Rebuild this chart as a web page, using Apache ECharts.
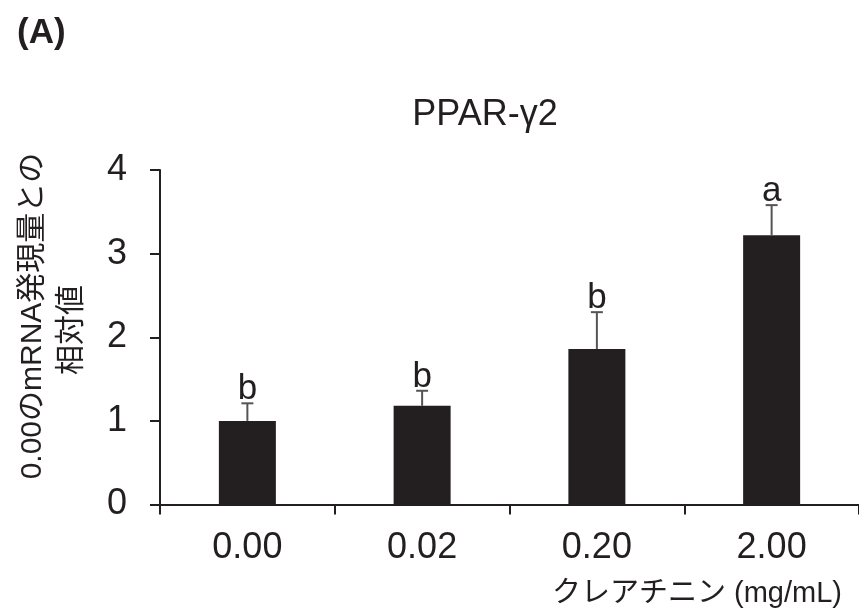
<!DOCTYPE html>
<html>
<head>
<meta charset="utf-8">
<script src="https://cdn.jsdelivr.net/npm/echarts@6/dist/echarts.min.js"></script>
<style>
html,body{margin:0;padding:0;background:#fff;}
#chart{width:859px;height:616px;}
</style>
</head>
<body>
<div id="chart"></div>
<script>
var categories = ['0.00', '0.02', '0.20', '2.00'];
var means = [1.00, 1.18, 1.86, 3.22];
var errors = [0.21, 0.18, 0.44, 0.36];
var letters = ['b', 'b', 'b', 'a'];
var yTicks = [0, 1, 2, 3, 4];
var titleText = 'PPAR-γ2';
var panelLabel = '(A)';
var yNameLine1 = '0.00のmRNA発現量との';
var yNameLine2 = '相対値';
var xName = 'クレアチニン (mg/mL)';

var FONT = '"Liberation Sans", Arial, "Noto Sans CJK JP", sans-serif';
var INK = '#231f20';

var chart = echarts.init(document.getElementById('chart'), null, {renderer: 'canvas'});

var errData = categories.map(function (c, i) { return [i, means[i], errors[i], letters[i]]; });

chart.setOption({
  animation: false,
  backgroundColor: '#ffffff',
  title: {
    text: titleText,
    left: 480, top: 92, textAlign: 'center',
    textStyle: {fontFamily: FONT, fontSize: 36, fontWeight: 'normal', color: INK}
  },
  graphic: [
    {type: 'text', left: 17, top: 16,
     style: {text: panelLabel, font: 'bold 35px ' + FONT, fill: INK}},
    {type: 'text', right: 17, top: 579,
     style: {text: xName, font: '29px ' + FONT, fill: INK}},
    {type: 'text', x: 33, y: 316, rotation: Math.PI / 2,
     style: {text: yNameLine1, font: '30px ' + FONT, fill: INK, align: 'center', verticalAlign: 'middle'}},
    {type: 'text', x: 72, y: 330, rotation: Math.PI / 2,
     style: {text: yNameLine2, font: '30px ' + FONT, fill: INK, align: 'center', verticalAlign: 'middle'}}
  ],
  grid: {left: 160, top: 170, right: 0, height: 334.5, containLabel: false},
  xAxis: {
    type: 'category',
    data: categories,
    axisLine: {lineStyle: {color: INK, width: 2}},
    axisTick: {show: true, length: 10, inside: false, lineStyle: {color: INK, width: 2}},
    axisLabel: {fontFamily: FONT, fontSize: 36, color: INK, margin: 26}
  },
  yAxis: {
    type: 'value',
    min: yTicks[0], max: yTicks[yTicks.length - 1], interval: 1,
    axisLine: {show: true, lineStyle: {color: INK, width: 2}},
    axisTick: {show: true, length: 10, lineStyle: {color: INK, width: 2}},
    axisLabel: {fontFamily: FONT, fontSize: 36, color: INK, margin: 33},
    splitLine: {show: false}
  },
  series: [
    {
      type: 'bar',
      data: means,
      barWidth: 57,
      itemStyle: {color: INK},
      z: 2
    },
    {
      type: 'custom',
      data: errData,
      z: 3,
      renderItem: function (params, api) {
        var i = api.value(0);
        var m = api.value(1);
        var e = api.value(2);
        var base = api.coord([i, m]);
        var top = api.coord([i, m + e]);
        var half = 6;
        return {
          type: 'group',
          children: [
            {type: 'line', shape: {x1: base[0], y1: base[1], x2: top[0], y2: top[1]},
             style: {stroke: '#555', lineWidth: 2}},
            {type: 'line', shape: {x1: top[0] - half, y1: top[1], x2: top[0] + half, y2: top[1]},
             style: {stroke: '#555', lineWidth: 2}},
            {type: 'text', x: top[0], y: top[1] + 4,
             style: {text: letters[i], font: '35px ' + FONT, fill: INK, align: 'center', verticalAlign: 'bottom'}}
          ]
        };
      }
    }
  ]
});
</script>
</body>
</html>
